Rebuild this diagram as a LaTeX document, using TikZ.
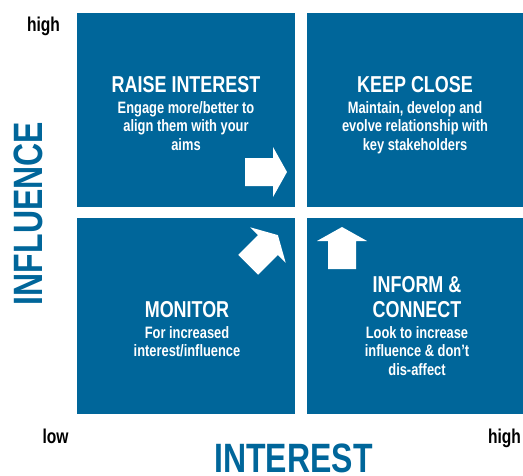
\documentclass[tikz,border=0pt]{standalone}
\usepackage{fontspec}
\setmainfont{Liberation Sans}[FakeStretch=0.78]
\usepackage{tikz}
\usepackage{xcolor}
\usetikzlibrary{positioning}
\definecolor{quadblue}{HTML}{00669A}

\begin{document}
\begin{tikzpicture}[x=1pt, y=-1pt,
        quad/.style={fill=quadblue},
        title/.style={text=white, font=\bfseries\fontsize{23}{25}\selectfont, align=center, inner sep=0pt, anchor=south},
        body/.style={text=white, font=\bfseries\fontsize{16.5}{18.5}\selectfont, align=center, inner sep=0pt},
        axis/.style={text=quadblue, font=\bfseries\fontsize{41}{41}\selectfont, inner sep=0pt},
        tick/.style={font=\bfseries\fontsize{20}{20}\selectfont, inner sep=0pt, anchor=base},
        blockarrow/.pic={\fill[white] (-28,-14) -- (0,-14) -- (0,-25) -- (14,0) -- (0,25) -- (0,14) -- (-28,14) -- cycle;}]
    \useasboundingbox (0,0) rectangle (523,475);
    % the four quadrants
    \foreach \xa/\ya/\xb/\yb in {77/13/295/207, 307/13/523/207, 77/218/295/414, 307/218/523/414} {
        \fill[quad] (\xa,\ya) rectangle (\xb,\yb);
    }
    % axes
    \node[tick] (hiy) at (43.5,31) {high};
    \node[tick] (lo) at (55.5,443) {low};
    \node[tick] (hix) at (504.5,443) {high};
    \node[axis, anchor=base] (interest) at (293.5,472) {INTEREST};
    \node[axis, rotate=90] (influence) at (28,213.5) {INFLUENCE};
    % quadrant texts
    \node[title] (raise) at (186,93) {RAISE INTEREST};
    \node[body, below=8pt of raise] (raiseTxt) {Engage more/better to\\align them with your\\aims};
    \node[title] (keep) at (415,93) {KEEP CLOSE};
    \node[body, below=8pt of keep] (keepTxt) {Maintain, develop and\\evolve relationship with\\key stakeholders};
    \node[title] (monitor) at (187,318) {MONITOR};
    \node[body, below=8pt of monitor] (monitorTxt) {For increased\\interest/influence};
    \node[title] (inform) at (417,318) {INFORM \&\\CONNECT};
    \node[body, below=8pt of inform] (informTxt) {Look to increase\\influence \& don't\\dis-affect};
    % arrows
    \pic at (273,172) {blockarrow};
    \pic[rotate=90] at (342,241) {blockarrow};
    \pic[rotate=45] at (268,245) {blockarrow};
\end{tikzpicture}
\end{document}
